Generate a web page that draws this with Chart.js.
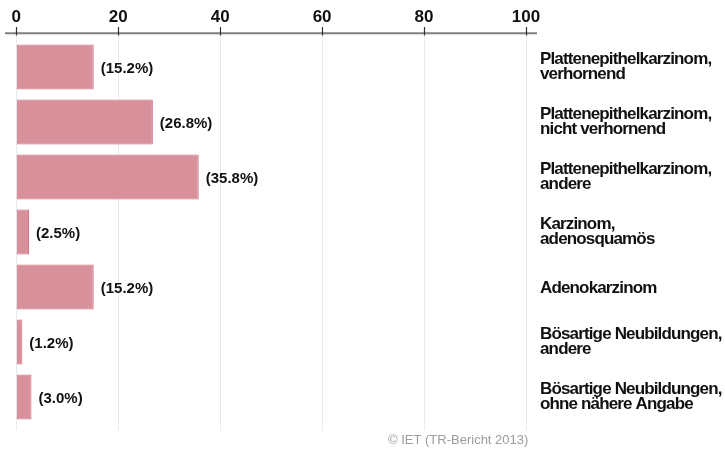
<!DOCTYPE html>
<html>
<head>
<meta charset="utf-8">
<script src="https://cdn.jsdelivr.net/npm/chart.js@4"></script>
<style>
  html, body { margin: 0; padding: 0; background: #ffffff; }
  #wrap { width: 725px; height: 450px; position: relative; }
</style>
</head>
<body>
<div id="wrap"><canvas id="c" width="725" height="450"></canvas></div>
<script>
// Tumour types (two-line labels) and their share in percent
const categories = [
  ["Plattenepithelkarzinom,", "verhornend"],
  ["Plattenepithelkarzinom,", "nicht verhornend"],
  ["Plattenepithelkarzinom,", "andere"],
  ["Karzinom,", "adenosquamös"],
  ["Adenokarzinom"],
  ["Bösartige Neubildungen,", "andere"],
  ["Bösartige Neubildungen,", "ohne nähere Angabe"]
];
const shares = [15.2, 26.8, 35.8, 2.5, 15.2, 1.2, 3.0];
const axisMin = 0;
const axisMax = 100;
const axisStep = 20;
const sourceNote = "© IET (TR-Bericht 2013)";

const FONT = '"Liberation Sans", Arial, Helvetica, sans-serif';
const GRID = '#e4ebf0';

// Axis rule, tick marks, value labels, category labels and source note
const decorations = {
  id: 'decorations',
  afterDraw(chart) {
    const ctx = chart.ctx;
    const xs = chart.scales.x;
    const area = chart.chartArea;
    ctx.save();

    // stretch the grid lines slightly past the plot area
    ctx.strokeStyle = GRID;
    ctx.lineWidth = 1;
    xs.ticks.forEach(t => {
      const px = Math.round(xs.getPixelForValue(t.value)) + 0.5;
      ctx.beginPath();
      ctx.moveTo(px, 35); ctx.lineTo(px, area.top);
      ctx.moveTo(px, area.bottom); ctx.lineTo(px, area.bottom + 6);
      ctx.stroke();
    });

    // axis rule
    ctx.strokeStyle = '#808080';
    ctx.lineWidth = 2;
    ctx.beginPath();
    ctx.moveTo(5, 33.3); ctx.lineTo(537, 33.3);
    ctx.stroke();

    // tick marks
    ctx.strokeStyle = '#333333';
    ctx.lineWidth = 1.2;
    xs.ticks.forEach(t => {
      const px = Math.round(xs.getPixelForValue(t.value)) + 0.5;
      ctx.beginPath();
      ctx.moveTo(px, 27); ctx.lineTo(px, 35.5);
      ctx.stroke();
    });

    const meta = chart.getDatasetMeta(0);
    ctx.fillStyle = '#111111';
    ctx.textBaseline = 'alphabetic';
    ctx.textAlign = 'left';

    // value labels next to each bar
    ctx.font = 'bold 15px ' + FONT;
    meta.data.forEach((bar, i) => {
      ctx.fillText('(' + shares[i].toFixed(1) + '%)', bar.x + 7, bar.y + 6);
    });

    // category labels on the right, tightly set
    ctx.font = 'bold 17px ' + FONT;
    ctx.letterSpacing = '-0.85px';
    const lh = 15;
    meta.data.forEach((bar, i) => {
      const lines = categories[i];
      const base = bar.y + 6 - (lines.length - 1) * 9;
      lines.forEach((ln, k) => ctx.fillText(ln, 540, base + k * lh));
    });
    ctx.letterSpacing = '0px';

    // source note
    ctx.font = '13px ' + FONT;
    ctx.fillStyle = '#9c9c9c';
    ctx.fillText(sourceNote, 388, 444);

    ctx.restore();
  }
};

new Chart(document.getElementById('c'), {
  type: 'bar',
  data: {
    labels: categories,
    datasets: [{
      data: shares,
      backgroundColor: '#d8909a',
      borderColor: '#d06c7c',
      borderWidth: 1,
      borderSkipped: false,
      barPercentage: 0.82,
      categoryPercentage: 1.0
    }]
  },
  options: {
    indexAxis: 'y',
    responsive: false,
    animation: false,
    devicePixelRatio: 1,
    layout: { padding: { left: 13, right: 199, top: 5, bottom: 25.5 } },
    plugins: { legend: { display: false }, tooltip: { enabled: false } },
    scales: {
      x: {
        position: 'top',
        min: axisMin,
        max: axisMax,
        afterFit: s => { s.height = 34.5; },
        ticks: {
          stepSize: axisStep,
          padding: 11.5,
          color: '#111111',
          font: { family: FONT, size: 17, weight: 'bold' }
        },
        grid: { color: GRID, drawTicks: false },
        border: { display: false }
      },
      y: {
        display: false,
        offset: true,
        grid: { display: false }
      }
    }
  },
  plugins: [decorations]
});
</script>
</body>
</html>
